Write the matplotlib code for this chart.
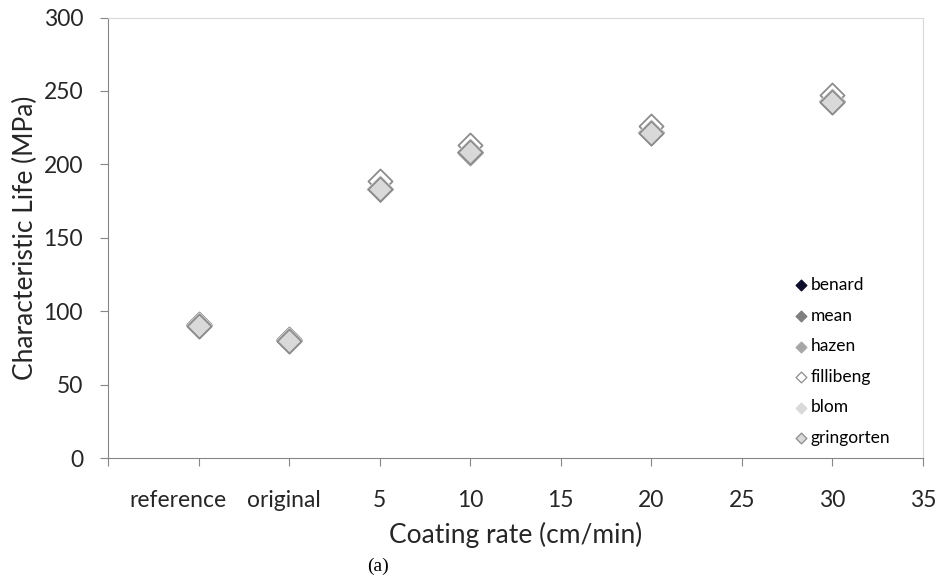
import matplotlib
matplotlib.use('Agg')
import matplotlib.pyplot as plt
import matplotlib.transforms as mtransforms
import numpy as np

plt.rcParams['font.family'] = ['Lato', 'DejaVu Sans']

# x positions: reference -> -5, original -> 0, then coating rates
x_pos = [-5, 0, 5, 10, 20, 30]

benard     = [90.5, 80.5, 183.5, 208.5, 222.0, 243.0]
mean       = [90.5, 80.5, 183.5, 208.5, 222.0, 243.0]
hazen      = [90.0, 80.0, 183.0, 208.0, 221.5, 242.5]
fillibeng  = [91.5, 81.0, 188.5, 213.0, 226.0, 247.5]
blom       = [90.5, 80.5, 184.0, 209.0, 222.0, 243.0]
gringorten = [90.0, 80.0, 183.5, 208.5, 221.5, 242.5]

series_names = ['benard', 'mean', 'hazen', 'fillibeng', 'blom', 'gringorten']
series_vals = [benard, mean, hazen, fillibeng, blom, gringorten]
face_cols = ['#0d0d2b', '#7f7f7f', '#a6a6a6', 'white', '#d9d9d9', '#d9d9d9']
edge_cols = ['#0d0d2b', '#7f7f7f', '#a6a6a6', '#8c8c8c', '#d9d9d9', '#8c8c8c']

xtick_vals = [-10, -5, 0, 5, 10, 15, 20, 25, 30, 35]
xtick_labels = ['', 'reference', 'original', '5', '10', '15', '20', '25', '30', '35']

fig = plt.figure(figsize=(9.37, 5.80), dpi=100)
ax = fig.add_axes([0.1153, 0.2103, 0.8697, 0.7594])

handles = []
for name, vals, fc, ec in zip(series_names, series_vals, face_cols, edge_cols):
    ax.scatter(x_pos, vals, marker='D', s=150, facecolor=fc, edgecolor=ec, linewidth=1.3, zorder=3)
    h = ax.scatter([], [], marker='D', s=30, facecolor=fc, edgecolor=ec, linewidth=0.9, label=name)
    handles.append(h)

ax.set_xlim(-10, 35)
ax.set_ylim(0, 300)
ax.set_yticks(np.arange(0, 301, 50))
ax.set_xticks(xtick_vals)
ax.set_xticklabels(xtick_labels)

for s in ['left', 'bottom']:
    ax.spines[s].set_color('#868686')
for s in ['top', 'right']:
    ax.spines[s].set_color('#d9d9d9')
ax.tick_params(axis='both', colors='#868686', labelcolor='#262626', labelsize=16.5, length=6)
ax.tick_params(axis='x', pad=17)
ax.tick_params(axis='y', pad=12)

# the two text categories sit a little left of their ticks
shifts = {'reference': -0.21, 'original': -0.05}
for lab in ax.get_xticklabels():
    if lab.get_text() in shifts:
        off = mtransforms.ScaledTranslation(shifts[lab.get_text()], 0, fig.dpi_scale_trans)
        lab.set_transform(lab.get_transform() + off)

ax.set_xlabel('Coating rate (cm/min)', fontsize=19, color='#262626', labelpad=8)
ax.set_ylabel('Characteristic Life (MPa)', fontsize=19, color='#262626', labelpad=4)

leg = ax.legend(handles=handles, loc='lower right', bbox_to_anchor=(0.975, 0.0),
                frameon=False, fontsize=12.5, handletextpad=0.05, labelspacing=0.84,
                handlelength=1.0, borderaxespad=0.3)

fig.text(0.403, 0.008, '(a)', fontsize=14, family='Liberation Serif', ha='center', va='bottom')

fig.savefig('out.png', dpi=100)
